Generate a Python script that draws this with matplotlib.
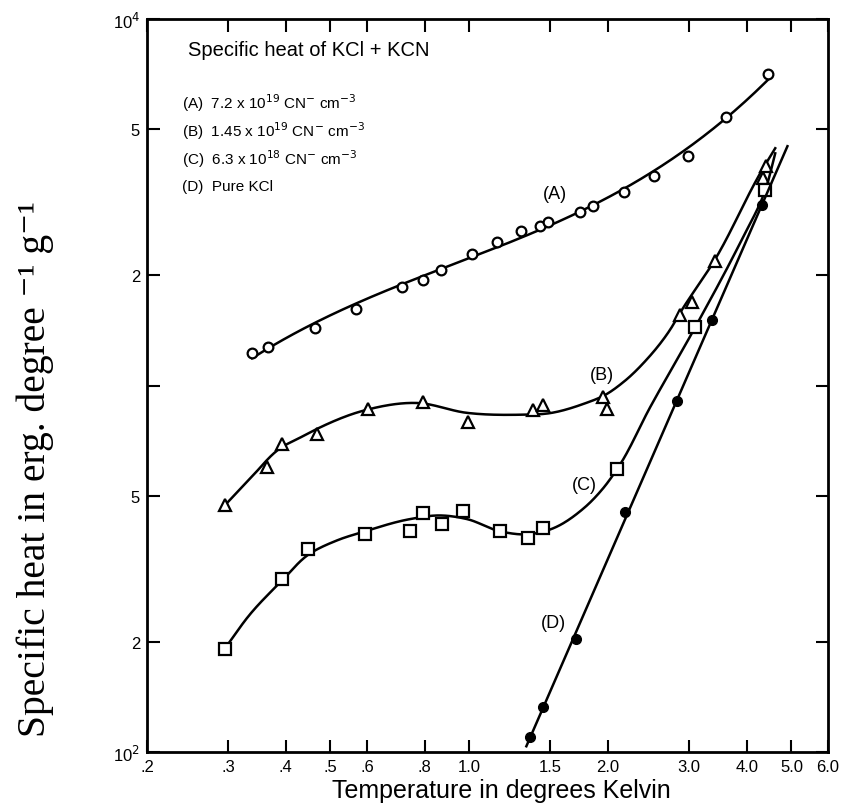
import numpy as np
import matplotlib
matplotlib.use('Agg')
import matplotlib.pyplot as plt

plt.rcParams['font.family'] = ['Liberation Sans', 'DejaVu Sans']

# 数据
# (A) 7.2e19 CN-
A_T = [0.338, 0.366, 0.463, 0.568, 0.715, 0.794, 0.869, 1.014, 1.149, 1.295,
       1.424, 1.48, 1.74, 1.856, 2.17, 2.52, 2.98, 3.61, 4.45]
A_C = [1225, 1272, 1432, 1613, 1862, 1945, 2070, 2288, 2466, 2642,
       2726, 2795, 2976, 3090, 3372, 3726, 4222, 5386, 7090]

# (B) 1.45e19 CN-
B_T = [0.295, 0.364, 0.393, 0.468, 0.603, 0.794, 0.994, 1.375, 1.446, 1.951,
       1.99, 2.87, 3.04, 3.41, 4.34, 4.40]
B_C = [471, 601, 694, 739, 864, 902, 796, 858, 885, 931,
       864, 1554, 1685, 2191, 3680, 3965]
# 手画曲线 (B)
B_curve_T = [0.295, 0.335, 0.393, 0.429, 0.468, 0.588, 0.770, 0.989, 1.27, 1.50,
             1.77, 1.97, 2.16, 2.43, 2.73, 2.87, 3.38, 4.34, 4.61]
B_curve_C = [471, 558, 680, 720, 762, 853, 896, 842, 832, 841,
             891, 942, 1022, 1180, 1423, 1583, 2163, 3917, 4440]

# (C) 6.3e18 CN-
C_T = [0.295, 0.393, 0.447, 0.594, 0.744, 0.794, 0.873, 0.969, 1.167, 1.341,
       1.446, 2.09, 3.09, 4.38]
C_C = [191.5, 297, 358, 393, 400, 448, 418, 454, 400, 383,
       408, 590, 1441, 3413]
C_curve_T = [0.295, 0.335, 0.394, 0.447, 0.517, 0.594, 0.744, 0.864, 0.989, 1.167,
             1.355, 1.50, 1.77, 1.951, 2.09, 2.47, 3.09, 3.87, 4.38, 4.61]
C_curve_C = [191.5, 238, 295, 345, 378, 400, 432, 442, 432, 400,
             393, 405, 462, 524, 590, 874, 1441, 2452, 3393, 4300]

# (D) Pure KCl
D_T = [1.355, 1.446, 1.704, 2.18, 2.82, 3.36, 4.32]
D_C = [110, 132.5, 204, 451, 908, 1506, 3108]
D_line_T = [1.33, 4.9]

x_ticks = [0.2, 0.3, 0.4, 0.5, 0.6, 0.8, 1.0, 1.5, 2.0, 3.0, 4.0, 5.0, 6.0]
x_ticklabels = ['.2', '.3', '.4', '.5', '.6', '.8', '1.0', '1.5', '2.0', '3.0', '4.0', '5.0', '6.0']
y_ticks = [100, 200, 500, 1000, 2000, 5000, 10000]
y_ticklabels = ['10$^2$', '2', '5', '', '2', '5', '10$^4$']

# 对数坐标每十倍的像素数, 用于曲线参数化
KX, KY = 461.0, 368.5


def smooth(xs, ys, n=30):
    # 弦长参数化的三次 Hermite 曲线 (对数坐标)
    P = np.column_stack([np.log10(xs) * KX, np.log10(ys) * KY])
    d = np.sqrt(np.sum(np.diff(P, axis=0) ** 2, axis=1))
    s = np.concatenate([[0], np.cumsum(d)])
    m = np.gradient(P, s, axis=0)
    u = np.linspace(0, 1, n, endpoint=False)[:, None]
    h00 = 2 * u ** 3 - 3 * u ** 2 + 1
    h10 = u ** 3 - 2 * u ** 2 + u
    h01 = -2 * u ** 3 + 3 * u ** 2
    h11 = u ** 3 - u ** 2
    out = []
    for i in range(len(P) - 1):
        h = s[i + 1] - s[i]
        out.append(h00 * P[i] + h10 * h * m[i] + h01 * P[i + 1] + h11 * h * m[i + 1])
    out.append(P[-1][None, :])
    out = np.vstack(out)
    return 10 ** (out[:, 0] / KX), 10 ** (out[:, 1] / KY)


fig = plt.figure(figsize=(8.55, 8.12), dpi=100)
ax = fig.add_axes([147 / 855, 59 / 812, 681 / 855, 733 / 812])
ax.set_xscale('log')
ax.set_yscale('log')

lw = 1.8
# A: 多项式拟合
pA = np.polyfit(np.log10(A_T), np.log10(A_C), 3)
xa = np.logspace(np.log10(A_T[0]), np.log10(A_T[-1]), 200)
ax.plot(xa, 10 ** np.polyval(pA, np.log10(xa)), color='black', lw=lw)
ax.plot(A_T, A_C, 'o', ms=7, mfc='white', mec='black', mew=1.6)

# B
xb, yb = smooth(B_curve_T, B_curve_C)
ax.plot(xb, yb, color='black', lw=lw)
ax.plot(B_T, B_C, '^', ms=8.5, mfc='white', mec='black', mew=1.6)

# C
xc, yc = smooth(C_curve_T, C_curve_C)
ax.plot(xc, yc, color='black', lw=lw)
ax.plot(C_T, C_C, 's', ms=8.5, mfc='white', mec='black', mew=1.6)

# D: 直线拟合
pD = np.polyfit(np.log10(D_T), np.log10(D_C), 1)
xd = np.array(D_line_T)
ax.plot(xd, 10 ** np.polyval(pD, np.log10(xd)), color='black', lw=lw)
ax.plot(D_T, D_C, 'o', ms=7, mfc='black', mec='black')

ax.set_xlim(0.2, 6.0)
ax.set_ylim(100, 10000)
ax.set_xticks(x_ticks)
ax.set_xticklabels(x_ticklabels, fontsize=12)
ax.set_yticks(y_ticks)
ax.set_yticklabels(y_ticklabels, fontsize=12)
ax.minorticks_off()
ax.tick_params(direction='in', length=9, width=1.5, top=True, right=True, pad=5)
for s in ax.spines.values():
    s.set_linewidth(2)

ax.text(0.06, 0.958, 'Specific heat of KCl + KCN', transform=ax.transAxes,
        fontsize=14.5, va='center')
legend_lines = ['(A)  7.2 x 10$^{19}$ CN$^{-}$ cm$^{-3}$',
                '(B)  1.45 x 10$^{19}$ CN$^{-}$ cm$^{-3}$',
                '(C)  6.3 x 10$^{18}$ CN$^{-}$ cm$^{-3}$',
                '(D)  Pure KCl']
for i, s in enumerate(legend_lines):
    ax.text(0.051, 0.887 - i * 0.0385, s, transform=ax.transAxes, fontsize=11, va='center')

ax.text(1.535, 3350, '(A)', fontsize=13, ha='center', va='center')
ax.text(1.94, 1074, '(B)', fontsize=13, ha='center', va='center')
ax.text(1.78, 537, '(C)', fontsize=13, ha='center', va='center')
ax.text(1.52, 225, '(D)', fontsize=13, ha='center', va='center')

ax.set_xlabel('Temperature in degrees Kelvin', fontsize=18, labelpad=7)
ax.xaxis.set_label_coords(0.52, -0.035, transform=ax.transAxes)
ax.xaxis.label.set_va('top')
fig.text(0.041, 0.422, 'Specific heat in erg. degree ⁻¹ g⁻¹', rotation=90,
         family=['Liberation Serif', 'DejaVu Serif'], fontsize=28.5, ha='center', va='center')

fig.savefig('out.png', dpi=100)
